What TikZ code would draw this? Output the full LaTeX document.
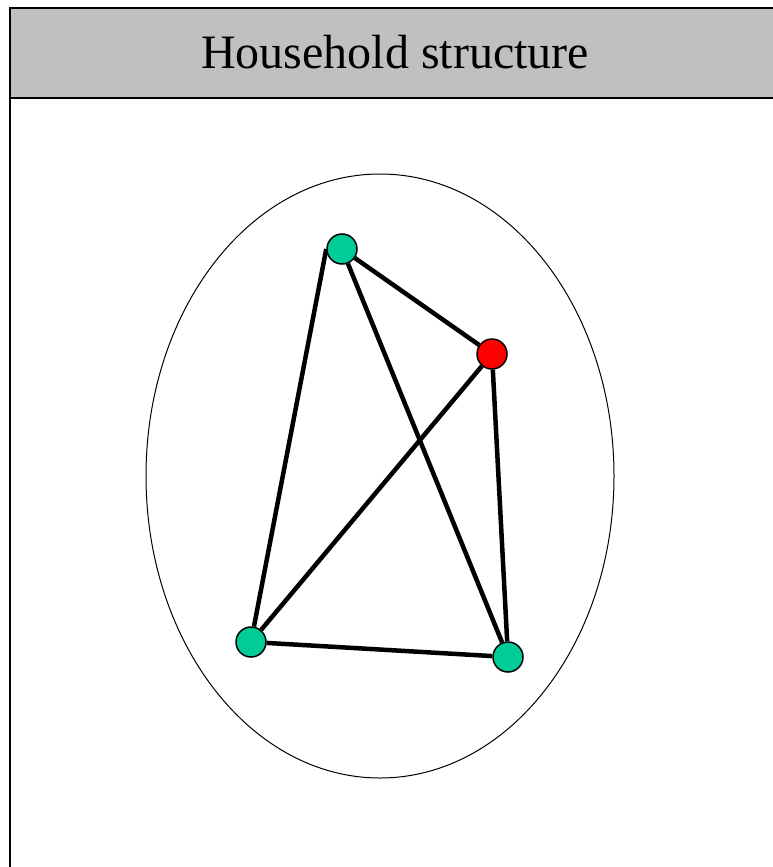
\documentclass[tikz,border=0pt]{standalone}
\usepackage{fontspec}
\setmainfont{Liberation Serif}
\usetikzlibrary{backgrounds}
\begin{document}
\begin{tikzpicture}[x=1pt,y=-1pt,
member/.style={circle,draw,line width=1.5pt,inner sep=0pt,minimum size=30pt},
link/.style={line width=4.5pt}]
\clip (0,0) rectangle (772,867);
\node (title) at (395,52) {\fontsize{48}{56}\selectfont Household structure};
\node[member,fill={rgb,255:red,0;green,204;blue,153}] (g1) at (342,249) {};
\node[member,fill=red] (r1) at (492,354) {};
\node[member,fill={rgb,255:red,0;green,204;blue,153}] (g2) at (251,642) {};
\node[member,fill={rgb,255:red,0;green,204;blue,153}] (g3) at (508,657) {};
\begin{scope}[on background layer]
\fill[white] (0,0) rectangle (772,867);
\filldraw[fill=white,line width=2pt] (10,8) rectangle (800,900);
\filldraw[fill={rgb,255:red,192;green,192;blue,192},line width=2pt] (10,8) rectangle (800,98);
\draw[line width=1pt] (380,476) ellipse [x radius=234,y radius=302];
\draw[link] (g1.west)--(g2);\draw[link] (g1)--(r1);\draw[link] (g1)--(g3);
\draw[link] (r1)--(g2);\draw[link] (r1)--(g3);\draw[link] (g2)--(g3);
\end{scope}
\end{tikzpicture}
\end{document}
